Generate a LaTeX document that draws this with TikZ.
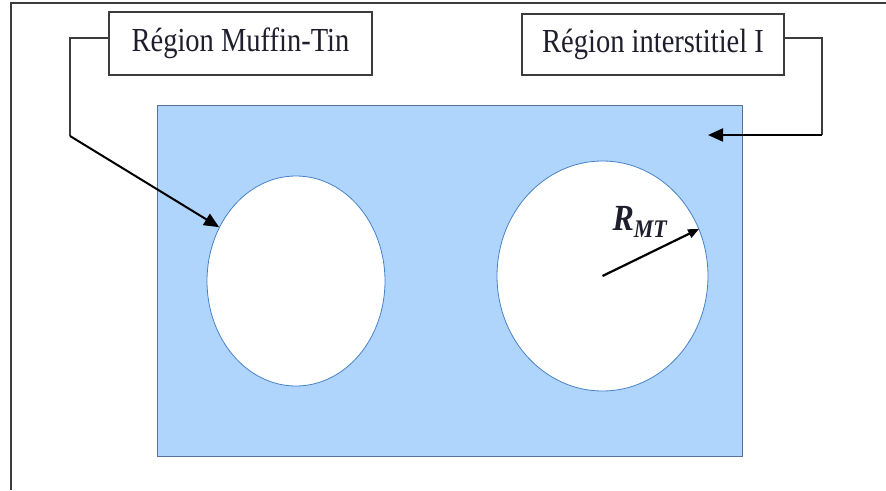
\documentclass[tikz,border=0pt]{standalone}
\usepackage{fontspec}
\setmainfont{Liberation Serif}
\usetikzlibrary{shapes.geometric,arrows.meta}
\definecolor{cellblue}{RGB}{176,213,252}
\definecolor{celledge}{RGB}{85,115,155}
\definecolor{holeedge}{RGB}{70,130,200}
\definecolor{framegray}{RGB}{60,60,60}
\definecolor{textdark}{RGB}{30,30,45}
\tikzset{
  labelbox/.style={draw=framegray, line width=1.5pt, fill=white, inner sep=0pt, text=textdark, font=\fontsize{28.5}{30}\selectfont},
  hole/.style={ellipse, draw=holeedge, line width=0.8pt, fill=white, inner sep=0pt},
  leader/.style={draw=framegray, line width=1.4pt},
  pointer/.style={line width=2pt, -{Triangle[length=15pt,width=13pt]}},
  radius arrow/.style={line width=2.2pt, -{Triangle[length=11pt,width=9pt]}}
}
\begin{document}
\begin{tikzpicture}[x=1pt,y=-1pt]
\useasboundingbox (0,0) rectangle (886,490);
\fill[white] (0,0) rectangle (886,490);
% outer frame
\draw[framegray, line width=1.6pt] (11,490) -- (11,3) -- (886,3);
% unit cell
\node[draw=celledge, line width=0.9pt, fill=cellblue, minimum width=585pt, minimum height=351pt, inner sep=0pt] (cell) at (449.5,280.5) {};
% muffin-tin spheres
\node[hole, minimum width=178pt, minimum height=210pt] (e1) at (296,281) {};
\node[hole, minimum width=211pt, minimum height=230pt] (e2) at (602.5,276) {};
% labels
\node[labelbox, minimum width=263pt, minimum height=63pt] (b1) at (240.5,43.5) {\scalebox{1}[1.18]{Région Muffin-Tin}};
\node[labelbox, minimum width=262pt, minimum height=61pt] (b2) at (653,44.5) {\scalebox{1}[1.18]{Région interstitiel I}};
% leader lines
\coordinate (k1) at (70,38);
\coordinate (k2) at (70,136);
\draw[leader] (b1.west |- k1) -- (k1) -- (k2);
\draw[pointer] (k2) -- (e1.145);
\coordinate (k3) at (822,38);
\coordinate (k4) at (822,135);
\coordinate (p2) at (708,135);
\draw[leader] (b2.east |- k3) -- (k3) -- (k4);
\draw[pointer] (k4) -- (p2);
% radius
\draw[radius arrow] (e2.center) -- (e2.26.6);
\node[text=textdark, font=\fontsize{32}{34}\selectfont\bfseries\itshape] (rmt) at (640,222) {\scalebox{1}[1.15]{R\textsubscript{\fontsize{22}{24}\selectfont MT}}};
\end{tikzpicture}
\end{document}
